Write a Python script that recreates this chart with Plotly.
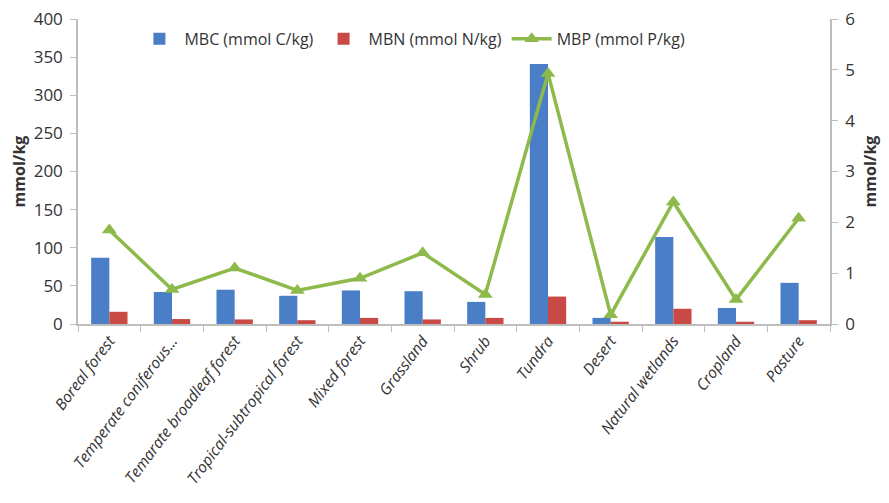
import plotly.graph_objects as go

# Microbial biomass by ecosystem type
ecosystems = [
    "Boreal forest", "Temperate coniferous...", "Temarate broadleaf forest",
    "Tropical-subtropical forest", "Mixed forest", "Grassland", "Shrub",
    "Tundra", "Desert", "Natural wetlands", "Cropland", "Pasture",
]
mbc = [87, 42, 45, 37, 44, 43, 29, 341, 8, 114, 21, 54]
mbn = [16, 6.5, 6, 5, 8, 6, 8, 36, 3, 20, 3, 5]
mbp = [1.85, 0.68, 1.1, 0.66, 0.9, 1.4, 0.58, 4.93, 0.18, 2.4, 0.48, 2.08]

font_family = "Open Sans, Liberation Sans, sans-serif"
axis_color = "#bdbdbd"

fig = go.Figure()
fig.add_trace(go.Bar(
    x=ecosystems, y=mbc, name="MBC (mmol C/kg)",
    marker=dict(color="#4a7ec6", line=dict(width=0)),
))
fig.add_trace(go.Bar(
    x=ecosystems, y=mbn, name="MBN (mmol N/kg)",
    marker=dict(color="#c94a45", line=dict(width=0)),
))
fig.add_trace(go.Scatter(
    x=ecosystems, y=mbp, name="MBP (mmol P/kg)", yaxis="y2",
    mode="lines+markers",
    line=dict(color="#8dba4a", width=3.5),
    marker=dict(symbol="triangle-up", size=13, color="#8dba4a"),
))

# page body adds an 8px margin on every side, so the figure is 16px smaller
fig.update_layout(
    width=873, height=487,
    margin=dict(l=70, r=51, t=11, b=171),
    paper_bgcolor="white", plot_bgcolor="white",
    font=dict(family=font_family, size=16, color="#333333"),
    barmode="group", bargap=0.42, bargroupgap=0,
    showlegend=True,
    legend=dict(
        orientation="h", x=0.075, y=0.935, xanchor="left", yanchor="middle",
        font=dict(size=16), bgcolor="rgba(0,0,0,0)", traceorder="normal",
        itemwidth=40,
    ),
    xaxis=dict(
        automargin=False, range=[-0.5, len(ecosystems) - 0.5],
        showline=True, linecolor=axis_color, linewidth=1.5,
        ticks="outside", tickson="boundaries", ticklen=6, tickcolor=axis_color,
        tickangle=-53, tickfont=dict(size=15.5, style="italic"),
        showgrid=False,
    ),
    yaxis=dict(
        automargin=False, ticklabeloverflow="allow", ticklabelstandoff=4,
        range=[0, 400], dtick=50, showgrid=False, zeroline=False,
        showline=True, linecolor=axis_color, linewidth=1.5,
        ticks="outside", ticklen=6, tickcolor=axis_color,
        tickfont=dict(size=17),
        title=dict(text="<b>mmol/kg</b>", font=dict(size=16), standoff=8),
    ),
    yaxis2=dict(
        automargin=False, ticklabeloverflow="allow", ticklabelstandoff=4,
        range=[0, 6], dtick=1, overlaying="y", side="right",
        showgrid=False, zeroline=False,
        showline=True, linecolor=axis_color, linewidth=1.5,
        ticks="outside", ticklen=6, tickcolor=axis_color,
        tickfont=dict(size=17),
        title=dict(text="<b>mmol/kg</b>", font=dict(size=16), standoff=18),
    ),
)

fig.write_html("out.html")
